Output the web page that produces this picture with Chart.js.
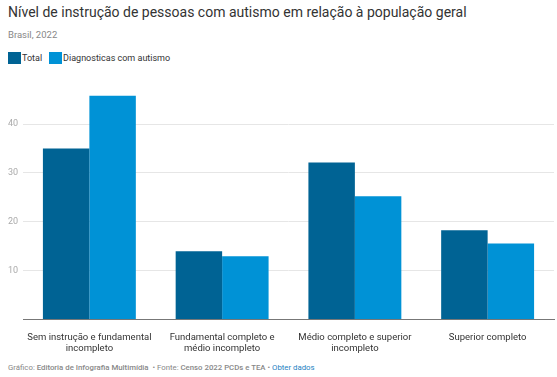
<!DOCTYPE html>
<html lang="pt-BR">
<head>
<meta charset="utf-8">
<script src="https://cdn.jsdelivr.net/npm/chart.js@4"></script>
<style>
  body { margin: 0; width: 557px; height: 377px; background: #fff; font-family: Roboto, sans-serif; position: relative; overflow: hidden; }
  #title { position: absolute; left: 8px; top: 4px; font-size: 14px; line-height: 17px; color: #333; white-space: nowrap; }
  #subtitle { position: absolute; left: 8px; top: 29px; font-size: 9.5px; line-height: 12px; color: #888; }
  #legend { position: absolute; left: 8px; top: 52px; font-size: 9px; line-height: 12px; color: #333; display: flex; }
  .item { display: flex; align-items: center; margin-right: 7px; }
  .box { width: 13px; height: 12px; margin-right: 1px; }
  #wrap { position: absolute; left: 0; top: 65px; width: 557px; height: 295px; }
  #footer { position: absolute; left: 8px; top: 363px; font-size: 7.8px; line-height: 10px; color: #888; white-space: nowrap; }
  #footer b { font-weight: 500; }
  #footer a { color: #1d81c2; text-decoration: none; }
</style>
</head>
<body>
<div id="title">Nível de instrução de pessoas com autismo em relação à população geral</div>
<div id="subtitle">Brasil, 2022</div>
<div id="legend"></div>
<div id="wrap"><canvas id="chart" width="557" height="295"></canvas></div>
<div id="footer">Gráfico: <b>Editoria de Infografia Multimídia</b> &nbsp;• Fonte: <b>Censo 2022 PCDs e TEA</b> • <a>Obter dados</a></div>
<script>
const categories = [
    ['Sem instrução e fundamental', 'incompleto'],
    ['Fundamental completo e', 'médio incompleto'],
    ['Médio completo e superior', 'incompleto'],
    ['Superior completo']
];
const seriesNames = ['Total', 'Diagnosticas com autismo'];
const totalValues = [35.0, 13.9, 32.1, 18.2];
const autismValues = [45.8, 12.9, 25.2, 15.5];
const colors = ['#006394', '#0092d6'];

// legend
const legend = document.getElementById('legend');
seriesNames.forEach(function(name, i) {
    const item = document.createElement('div');
    item.className = 'item';
    item.innerHTML = '<span class="box" style="background:' + colors[i] + '"></span>' + name;
    legend.appendChild(item);
});

const ctx = document.getElementById('chart').getContext('2d');
new Chart(ctx, {
    type: 'bar',
    data: {
        labels: categories,
        datasets: [{
            label: seriesNames[0],
            data: totalValues,
            backgroundColor: colors[0]
        }, {
            label: seriesNames[1],
            data: autismValues,
            backgroundColor: colors[1]
        }]
    },
    options: {
        responsive: false,
        animation: false,
        layout: { padding: { top: 0, right: 3, left: 0, bottom: 0 } },
        datasets: {
            bar: { categoryPercentage: 0.7, barPercentage: 1.0 }
        },
        plugins: {
            legend: { display: false },
            tooltip: { enabled: false }
        },
        scales: {
            x: {
                afterFit: function(scale) { scale.height = 41; },
                grid: { display: false },
                border: { display: true, color: '#777', width: 1 },
                ticks: {
                    color: '#333',
                    padding: 5,
                    maxRotation: 0,
                    autoSkip: false,
                    font: { family: 'Roboto', size: 9.5, lineHeight: 1.15 }
                }
            },
            y: {
                min: 0,
                max: 50,
                afterFit: function(scale) { scale.width = 23; },
                afterBuildTicks: function(scale) {
                    scale.ticks = scale.ticks.filter(t => t.value !== 0 && t.value !== 50);
                },
                border: { display: false },
                grid: { color: '#e6e6e6', drawTicks: false },
                ticks: {
                    stepSize: 10,
                    color: '#aaa',
                    padding: 5,
                    font: { family: 'Roboto', size: 9 }
                }
            }
        }
    }
});
</script>
</body>
</html>
